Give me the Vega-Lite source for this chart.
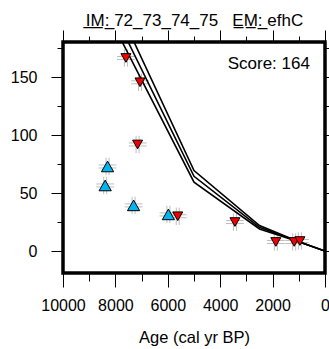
{
  "$schema": "https://vega.github.io/schema/vega-lite/v6.json",
  "autosize": "none",
  "width": 262,
  "height": 231,
  "padding": {"left": 63, "top": 42, "right": 4, "bottom": 76},
  "background": "white",
  "config": {
    "view": {"stroke": "black", "strokeWidth": 3.5},
    "axis": {
      "domain": false, "grid": false, "tickColor": "black", "tickWidth": 1,
      "labelFont": "Liberation Sans", "labelFontSize": 16, "labelColor": "black",
      "titleFont": "Liberation Sans", "titleFontSize": 16.5, "titleFontWeight": "normal", "titleColor": "black",
      "labelOverlap": false, "labelFlush": false
    }
  },
  "datasets": {
    "points": [
      {"kind": "up", "age": 8300, "val": 73, "ageLo": 7960, "ageHi": 8640, "valLo": 65.5, "valHi": 80.5},
      {"kind": "up", "age": 8390, "val": 56.6, "ageLo": 8050, "ageHi": 8730, "valLo": 49.1, "valHi": 64.1},
      {"kind": "up", "age": 7306, "val": 39.4, "ageLo": 6966, "ageHi": 7646, "valLo": 31.9, "valHi": 46.9},
      {"kind": "up", "age": 5977, "val": 31.6, "ageLo": 5637, "ageHi": 6317, "valLo": 24.1, "valHi": 39.1},
      {"kind": "down", "age": 7598, "val": 166.7, "ageLo": 7258, "ageHi": 7938, "valLo": 159.2, "valHi": 174.2},
      {"kind": "down", "age": 7061, "val": 145.7, "ageLo": 6721, "ageHi": 7401, "valLo": 138.2, "valHi": 153.2},
      {"kind": "down", "age": 7153, "val": 92, "ageLo": 6813, "ageHi": 7493, "valLo": 84.5, "valHi": 99.5},
      {"kind": "down", "age": 5620, "val": 30, "ageLo": 5280, "ageHi": 5960, "valLo": 22.5, "valHi": 37.5},
      {"kind": "down", "age": 3437, "val": 25, "ageLo": 3097, "ageHi": 3777, "valLo": 17.5, "valHi": 32.5},
      {"kind": "down", "age": 1877, "val": 7.8, "ageLo": 1537, "ageHi": 2217, "valLo": 0.3, "valHi": 15.3},
      {"kind": "down", "age": 1176, "val": 7.8, "ageLo": 836, "ageHi": 1516, "valLo": 0.3, "valHi": 15.3},
      {"kind": "down", "age": 958, "val": 8.6, "ageLo": 618, "ageHi": 1298, "valLo": 1.1, "valHi": 16.1}
    ],
    "lines": [
      {"run": "a", "age": 8000, "val": 215}, {"run": "a", "age": 5000, "val": 69.5}, {"run": "a", "age": 2500, "val": 22}, {"run": "a", "age": 1000, "val": 8}, {"run": "a", "age": 0, "val": 0},
      {"run": "b", "age": 8000, "val": 203}, {"run": "b", "age": 5000, "val": 64.5}, {"run": "b", "age": 2500, "val": 20.5}, {"run": "b", "age": 1000, "val": 8}, {"run": "b", "age": 0, "val": 0},
      {"run": "c", "age": 8000, "val": 192}, {"run": "c", "age": 5000, "val": 59.5}, {"run": "c", "age": 2500, "val": 19}, {"run": "c", "age": 1000, "val": 8}, {"run": "c", "age": 0, "val": 0}
    ],
    "score": [{"label": "Score: 164", "age": 575, "val": 157}]
  },
  "resolve": {"axis": {"x": "independent", "y": "independent"}},
  "layer": [
    {
      "data": {"name": "points"},
      "mark": {"type": "rule", "color": "#bdbdbd", "strokeWidth": 1, "yOffset": -1.5},
      "encoding": {
        "x": {"field": "ageLo", "type": "quantitative", "scale": {"domain": [0, 10000], "reverse": true, "nice": false, "zero": false},
          "axis": {"orient": "bottom", "values": [0,1000,2000,3000,4000,5000,6000,7000,8000,9000,10000], "format": "d",
            "labelExpr": "datum.value % 2000 === 0 ? datum.label : ''",
            "tickSize": {"condition": {"test": "datum.value % 2000 === 0", "value": 14}, "value": 8},
            "labelPadding": 10, "title": "Age (cal yr BP)", "titlePadding": 16}},
        "x2": {"field": "ageHi"},
        "y": {"field": "val", "type": "quantitative", "scale": {"domain": [-19, 180.5], "nice": false, "zero": false},
          "axis": {"orient": "left", "values": [0,25,50,75,100,125,150,175],
            "labelExpr": "datum.value % 50 === 0 ? datum.label : ''",
            "tickSize": {"condition": {"test": "datum.value % 50 === 0", "value": 12}, "value": 6},
            "labelPadding": 14, "title": null}}
      }
    },
    {
      "data": {"name": "points"},
      "mark": {"type": "rule", "color": "#bdbdbd", "strokeWidth": 1, "yOffset": 1.5},
      "encoding": {
        "x": {"field": "ageLo", "type": "quantitative", "scale": {"domain": [0, 10000], "reverse": true, "nice": false, "zero": false},
          "axis": {"orient": "top", "values": [0,1000,2000,3000,4000,5000,6000,7000,8000,9000,10000], "labels": false,
            "tickSize": {"condition": {"test": "datum.value % 2000 === 0", "value": 12}, "value": 6},
            "title": "I̲M̲:̲ 72_73_74_75\u00a0\u00a0\u00a0E̲M̲:̲ efhC", "titlePadding": 0, "titleFontSize": 17}},
        "x2": {"field": "ageHi"},
        "y": {"field": "val", "type": "quantitative", "scale": {"domain": [-19, 180.5], "nice": false, "zero": false},
          "axis": {"orient": "right", "values": [0,25,50,75,100,125,150,175], "labels": false,
            "tickSize": {"condition": {"test": "datum.value % 50 === 0", "value": 12}, "value": 6}, "title": null}}
      }
    },
    {
      "data": {"name": "points"},
      "mark": {"type": "rule", "color": "#bdbdbd", "strokeWidth": 1, "xOffset": -1.5},
      "encoding": {
        "x": {"field": "age", "type": "quantitative", "scale": {"domain": [0, 10000], "reverse": true, "nice": false, "zero": false}, "axis": null},
        "y": {"field": "valLo", "type": "quantitative", "scale": {"domain": [-19, 180.5], "nice": false, "zero": false}, "axis": null},
        "y2": {"field": "valHi"}
      }
    },
    {
      "data": {"name": "points"},
      "mark": {"type": "rule", "color": "#bdbdbd", "strokeWidth": 1, "xOffset": 1.5},
      "encoding": {
        "x": {"field": "age", "type": "quantitative", "scale": {"domain": [0, 10000], "reverse": true, "nice": false, "zero": false}, "axis": null},
        "y": {"field": "valLo", "type": "quantitative", "scale": {"domain": [-19, 180.5], "nice": false, "zero": false}, "axis": null},
        "y2": {"field": "valHi"}
      }
    },
    {
      "data": {"name": "lines"},
      "mark": {"type": "line", "color": "black", "strokeWidth": 1.6, "clip": true},
      "encoding": {
        "x": {"field": "age", "type": "quantitative", "scale": {"domain": [0, 10000], "reverse": true, "nice": false, "zero": false}, "axis": null},
        "y": {"field": "val", "type": "quantitative", "scale": {"domain": [-19, 180.5], "nice": false, "zero": false}, "axis": null},
        "detail": {"field": "run", "type": "nominal"},
        "order": {"field": "age", "type": "quantitative"}
      }
    },
    {
      "data": {"name": "points"},
      "transform": [{"filter": "datum.kind === 'up'"}],
      "mark": {"type": "point", "shape": "triangle-up", "filled": true, "fill": "#00b4f0", "stroke": "black", "strokeWidth": 1, "size": 150, "opacity": 1},
      "encoding": {
        "x": {"field": "age", "type": "quantitative", "scale": {"domain": [0, 10000], "reverse": true, "nice": false, "zero": false}, "axis": null},
        "y": {"field": "val", "type": "quantitative", "scale": {"domain": [-19, 180.5], "nice": false, "zero": false}, "axis": null}
      }
    },
    {
      "data": {"name": "points"},
      "transform": [{"filter": "datum.kind === 'down'"}],
      "mark": {"type": "point", "shape": "triangle-down", "filled": true, "fill": "#f00000", "stroke": "black", "strokeWidth": 1, "size": 100, "opacity": 1},
      "encoding": {
        "x": {"field": "age", "type": "quantitative", "scale": {"domain": [0, 10000], "reverse": true, "nice": false, "zero": false}, "axis": null},
        "y": {"field": "val", "type": "quantitative", "scale": {"domain": [-19, 180.5], "nice": false, "zero": false}, "axis": null}
      }
    },
    {
      "data": {"name": "score"},
      "mark": {"type": "text", "align": "right", "baseline": "alphabetic", "font": "Liberation Sans", "fontSize": 17, "color": "black"},
      "encoding": {
        "x": {"field": "age", "type": "quantitative", "scale": {"domain": [0, 10000], "reverse": true, "nice": false, "zero": false}, "axis": null},
        "y": {"field": "val", "type": "quantitative", "scale": {"domain": [-19, 180.5], "nice": false, "zero": false}, "axis": null},
        "text": {"field": "label"}
      }
    }
  ]
}
